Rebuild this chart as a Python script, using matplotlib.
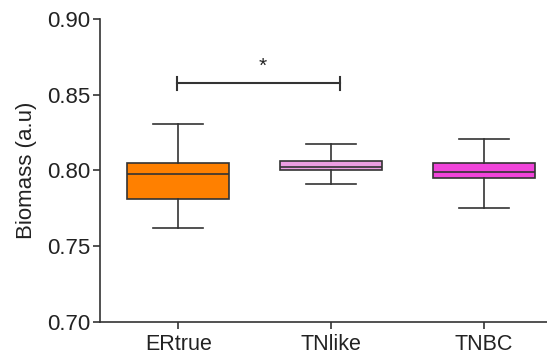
import matplotlib
matplotlib.use("Agg")
import matplotlib.pyplot as plt

categories = ["ERtrue", "TNlike", "TNBC"]
whisker_low = [0.762, 0.791, 0.775]
q1 = [0.781, 0.800, 0.795]
median = [0.798, 0.802, 0.799]
q3 = [0.805, 0.8065, 0.805]
whisker_high = [0.831, 0.8175, 0.8205]
colors = ["#FF8000", "#EC9EE2", "#F044DA"]
yticks = [0.70, 0.75, 0.80, 0.85, 0.90]
sig_y = 0.8575
sig_text = "*"

plt.rcParams['font.family'] = ['Liberation Sans', 'DejaVu Sans']
tc = "#222222"
fig = plt.figure(figsize=(5.47, 3.58), dpi=100)
ax = fig.add_axes([0.183, 0.1006, 0.83, 0.8464])

stats = []
for i, c in enumerate(categories):
    stats.append(dict(label=c, whislo=whisker_low[i], q1=q1[i], med=median[i],
                      q3=q3[i], whishi=whisker_high[i], fliers=[]))
lc = "#333333"
bp = ax.bxp(stats, positions=[1, 2, 3], widths=0.667, patch_artist=True,
            showfliers=False,
            boxprops=dict(linewidth=1.2, edgecolor=lc),
            medianprops=dict(color=lc, linewidth=1.2),
            whiskerprops=dict(color=lc, linewidth=1.2),
            capprops=dict(color=lc, linewidth=1.2),
            capwidths=0.33)
for patch, col in zip(bp['boxes'], colors):
    patch.set_facecolor(col)

ax.set_xlim(0.489, 3.46)
ax.set_ylim(0.70, 0.90)
ax.set_yticks(yticks)
ax.set_yticklabels([f"{v:.2f}" for v in yticks])
ax.set_xticks([1, 2, 3])
ax.set_xticklabels(categories)
ax.tick_params(axis='y', labelsize=16, length=5, width=1.2, color=lc, labelcolor=tc, direction='out', pad=2)
ax.tick_params(axis='x', labelsize=15.5, length=5, width=1.2, color=lc, labelcolor=tc, direction='out', pad=4)
ax.set_ylabel("Biomass (a.u)", fontsize=16, labelpad=7, color=tc)
for s in ['top', 'right']:
    ax.spines[s].set_visible(False)
for s in ['left', 'bottom']:
    ax.spines[s].set_linewidth(1.2)
    ax.spines[s].set_color(lc)

# significance bar
x0, x1 = 0.99, 2.06
ax.plot([x0, x1], [sig_y, sig_y], color=lc, lw=1.5)
ax.plot([x0, x0], [sig_y - 0.0045, sig_y + 0.0045], color=lc, lw=1.5)
ax.plot([x1, x1], [sig_y - 0.0045, sig_y + 0.0045], color=lc, lw=1.5)
ax.text(1.555, sig_y + 0.0115, sig_text, ha='center', va='center', fontsize=15, color=tc)

fig.savefig("out.png", dpi=100)
